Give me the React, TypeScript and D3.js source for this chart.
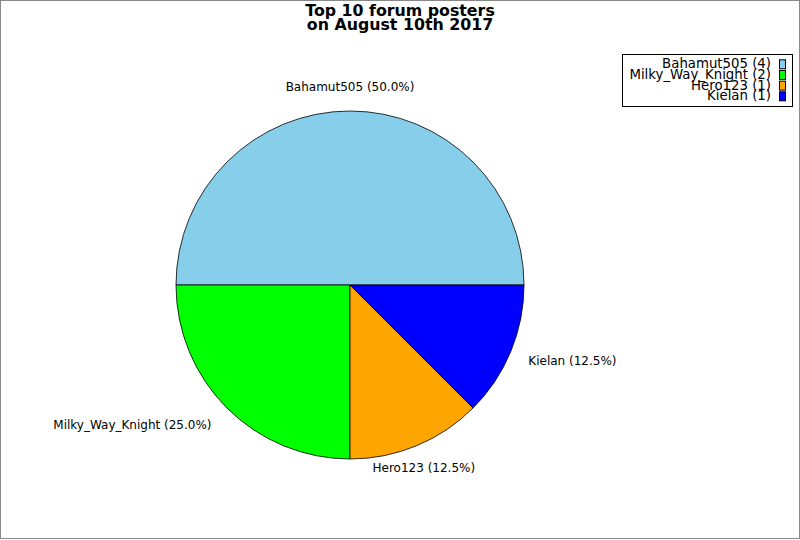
import { useEffect, useRef } from "react";
import * as d3 from "d3";

const posters = ["Bahamut505", "Milky_Way_Knight", "Hero123", "Kielan"];
const postCounts = [4, 2, 1, 1];
const sliceColors = ["#87ceeb", "#00ff00", "#ffa500", "#0000ff"];
const titleLines = ["Top 10 forum posters", "on August 10th 2017"];

const W = 800;
const H = 540;

export default function App() {
  const ref = useRef<SVGSVGElement | null>(null);

  useEffect(() => {
    if (!ref.current) return;
    const svg = d3.select(ref.current);
    svg.selectAll("*").remove();

    svg
      .append("rect")
      .attr("x", 0.5)
      .attr("y", 0.5)
      .attr("width", W - 1)
      .attr("height", H - 2)
      .attr("fill", "#fff")
      .attr("stroke", "#888");

    // title
    svg
      .append("g")
      .selectAll("text")
      .data(titleLines)
      .join("text")
      .attr("x", 400)
      .attr("y", (d, i) => 16 + i * 13.6)
      .attr("text-anchor", "middle")
      .attr("font-family", "DejaVu Sans")
      .attr("font-weight", "bold")
      .attr("font-size", 15.8)
      .text((d) => d);

    const data = posters.map((name, i) => ({ name, value: postCounts[i], color: sliceColors[i] }));
    const total = d3.sum(postCounts);
    const cx = 350;
    const cy = 285;
    const r = 174;

    // counter-clockwise from 3 o'clock
    const pie = d3
      .pie<any>()
      .sort(null)
      .value((d) => d.value)
      .startAngle(Math.PI / 2)
      .endAngle(Math.PI / 2 - 2 * Math.PI);
    const arcs = pie(data);

    const arc = d3.arc<any>().innerRadius(0).outerRadius(r);
    const labelArc = d3.arc<any>().innerRadius(193).outerRadius(193);

    const g = svg.append("g").attr("transform", `translate(${cx},${cy})`);
    g.selectAll("path")
      .data(arcs)
      .join("path")
      .attr("d", arc as any)
      .attr("fill", (d) => d.data.color)
      .attr("stroke", "#000")
      .attr("stroke-width", 0.8);

    g.selectAll("text")
      .data(arcs)
      .join("text")
      .each(function (d) {
        const [x, y] = labelArc.centroid(d);
        const mid = (d.startAngle + d.endAngle) / 2;
        const sx = Math.sin(mid);
        const sy = -Math.cos(mid);
        const anchor = Math.abs(sx) < 0.5 ? "middle" : sx > 0 ? "start" : "end";
        d3.select(this)
          .attr("x", x + (anchor === "end" ? -2 : 0))
          .attr("y", y + 4 + sy * 5)
          .attr("text-anchor", anchor);
      })
      .attr("font-family", "DejaVu Sans")
      .attr("font-size", 12)
      .attr("fill", "#000")
      .text((d) => `${d.data.name} (${((d.data.value / total) * 100).toFixed(1)}%)`);

    // legend
    const lg = svg.append("g");
    lg.append("rect")
      .attr("x", 622.5)
      .attr("y", 54.5)
      .attr("width", 170)
      .attr("height", 52)
      .attr("fill", "#fff")
      .attr("stroke", "#000");
    const rows = lg
      .selectAll("g")
      .data(data)
      .join("g")
      .attr("transform", (d, i) => `translate(0,${68.3 + i * 10.67})`);
    rows
      .append("text")
      .attr("x", 771)
      .attr("y", 0)
      .attr("text-anchor", "end")
      .attr("font-family", "DejaVu Sans")
      .attr("font-size", 13.3)
      .text((d) => `${d.name} (${d.value})`);
    rows
      .append("rect")
      .attr("x", 779.5)
      .attr("y", -8.5)
      .attr("width", 6)
      .attr("height", 9)
      .attr("fill", (d) => d.color)
      .attr("stroke", "#000");
  }, []);

  return (
    <svg
      ref={ref}
      width={W}
      height={H}
      style={{ position: "absolute", left: 0, top: 0, display: "block" }}
    />
  );
}
